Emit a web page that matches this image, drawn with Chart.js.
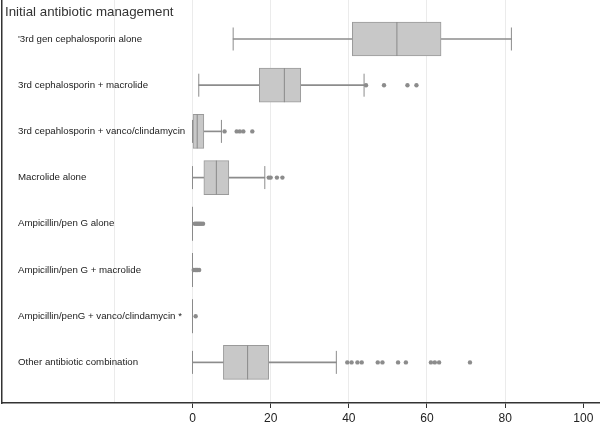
<!DOCTYPE html>
<html>
<head>
<meta charset="utf-8">
<script src="https://cdn.jsdelivr.net/npm/chart.js@4/dist/chart.umd.min.js"></script>
<style>
  html, body { margin: 0; padding: 0; background: #fff; }
  #wrap { width: 600px; height: 426px; }
</style>
</head>
<body>
<div id="wrap"><canvas id="box" width="600" height="426"></canvas></div>
<script>
// Categorias (de cima para baixo)
const categorias = [
    "'3rd gen cephalosporin alone",
    "3rd cephalosporin + macrolide",
    "3rd cepahlosporin + vanco/clindamycin",
    "Macrolide alone",
    "Ampicillin/pen G alone",
    "Ampicillin/pen G + macrolide",
    "Ampicillin/penG + vanco/clindamycin *",
    "Other antibiotic combination"
];

// Estatisticas dos boxplots
const bigodeMin = [10.4, 1.6, 0, 0, 0, 0, 0, 0];
const quartil1  = [40.9, 17.1, 0, 2.9, 0, 0, 0, 7.9];
const mediana   = [52.3, 23.5, 1.2, 6.1, 0, 0, 0, 14.1];
const quartil3  = [63.6, 27.7, 2.9, 9.3, 0, 0, 0, 19.5];
const bigodeMax = [81.6, 43.9, 7.4, 18.5, 0, 0, 0, 36.8];

// Valores atipicos por linha
const outliers = [
    [],
    [44.4, 49.0, 55.0, 57.3],
    [8.2, 11.3, 12.1, 13.0, 15.3],
    [19.5, 20.0, 21.6, 23.0],
    [0.6, 1.0, 1.4, 1.8, 2.2, 2.7],
    [0.3, 0.7, 1.0, 1.3, 1.7],
    [0.8],
    [39.6, 40.7, 42.2, 43.3, 47.4, 48.6, 52.6, 54.6, 61.0, 62.0, 63.1, 71.0]
];

const ticksX = [-20, 0, 20, 40, 60, 80, 100];
const titulo = 'Initial antibiotic management';

const FONTE = "'Liberation Sans', Arial, sans-serif";
const CINZA = '#8c8c8c';

const linha = i => i + 1;

const caixas = categorias.map((c, i) => ({ x: [quartil1[i], quartil3[i]], y: linha(i) }));
const bigodes = [];
const pontas = [];
categorias.forEach((c, i) => {
    bigodes.push({ x: [bigodeMin[i], quartil1[i]], y: linha(i) });
    bigodes.push({ x: [quartil3[i], bigodeMax[i]], y: linha(i) });
    pontas.push({ x: bigodeMin[i], y: linha(i) });
    pontas.push({ x: bigodeMax[i], y: linha(i) });
});
const medianas = categorias.map((c, i) => ({ x: mediana[i], y: linha(i) }));
const atipicos = [];
outliers.forEach((lista, i) => lista.forEach(v => atipicos.push({ x: v, y: linha(i) })));

// Titulo desenhado dentro da area do grafico
const tituloPlugin = {
    id: 'tituloInterno',
    afterDraw(chart) {
        const ctx = chart.ctx;
        ctx.save();
        ctx.font = '13.3px ' + FONTE;
        ctx.fillStyle = '#333';
        ctx.textBaseline = 'middle';
        ctx.textAlign = 'left';
        ctx.fillText(titulo, 5, 12);
        ctx.restore();
    }
};

new Chart(document.getElementById('box'), {
    type: 'scatter',
    data: {
        datasets: [
            {
                type: 'scatter',
                data: atipicos,
                pointRadius: 2.2,
                pointBorderWidth: 0,
                pointBackgroundColor: CINZA,
                order: 1
            },
            {
                type: 'scatter',
                data: medianas,
                pointStyle: 'line',
                pointRotation: 90,
                pointRadius: 17,
                pointBorderWidth: 1,
                pointBorderColor: '#8a8a8a',
                order: 1
            },
            {
                type: 'scatter',
                data: pontas,
                pointStyle: 'line',
                pointRotation: 90,
                pointRadius: 11.5,
                pointBorderWidth: 1,
                pointBorderColor: CINZA,
                order: 1
            },
            {
                type: 'bar',
                indexAxis: 'y',
                data: caixas,
                grouped: false,
                barThickness: 34,
                backgroundColor: '#c8c8c8',
                borderColor: '#9a9a9a',
                borderWidth: 1,
                borderSkipped: false,
                order: 2
            },
            {
                type: 'bar',
                indexAxis: 'y',
                data: bigodes,
                grouped: false,
                barThickness: 1,
                backgroundColor: CINZA,
                borderWidth: 0,
                order: 3
            }
        ]
    },
    options: {
        responsive: false,
        animation: false,
        layout: { padding: 0, autoPadding: false },
        plugins: {
            legend: { display: false },
            tooltip: { enabled: false }
        },
        scales: {
            x: {
                type: 'linear',
                position: 'bottom',
                min: -48.75,
                max: 104.27,
                offset: false,
                afterFit(scale) {
                    scale.height = 23;
                    scale.paddingLeft = 0;
                    scale.paddingRight = 0;
                },
                afterBuildTicks(scale) {
                    scale.ticks = ticksX.map(v => ({ value: v }));
                },
                ticks: {
                    autoSkip: false,
                    maxRotation: 0,
                    padding: 3,
                    color: '#222',
                    font: { family: FONTE, size: 12 },
                    callback: v => (v < 0 ? '' : v)
                },
                grid: {
                    color: ctx => (ctx.tick && ctx.tick.value >= 100 ? 'rgba(0,0,0,0)' : '#ebebeb'),
                    tickColor: ctx => (ctx.tick && ctx.tick.value >= 0 ? '#333' : 'rgba(0,0,0,0)'),
                    tickLength: 5,
                    lineWidth: 1
                },
                border: { display: true, color: '#333', width: 1.5 }
            },
            y: {
                type: 'linear',
                position: 'left',
                reverse: true,
                min: 0.156,
                max: 8.879,
                offset: false,
                afterFit(scale) {
                    // rotulos ficam dentro da area: sem largura nem margens extras
                    scale.width = 2;
                    scale.paddingTop = 0;
                    scale.paddingBottom = 0;
                },
                afterBuildTicks(scale) {
                    scale.ticks = categorias.map((c, i) => ({ value: linha(i) }));
                },
                ticks: {
                    autoSkip: false,
                    mirror: true,
                    padding: 16,
                    color: '#222',
                    font: { family: FONTE, size: 9.7 },
                    callback: v => categorias[v - 1]
                },
                grid: { display: false },
                border: { display: true, color: '#333', width: 1.5 }
            }
        }
    },
    plugins: [tituloPlugin]
});
</script>
</body>
</html>
